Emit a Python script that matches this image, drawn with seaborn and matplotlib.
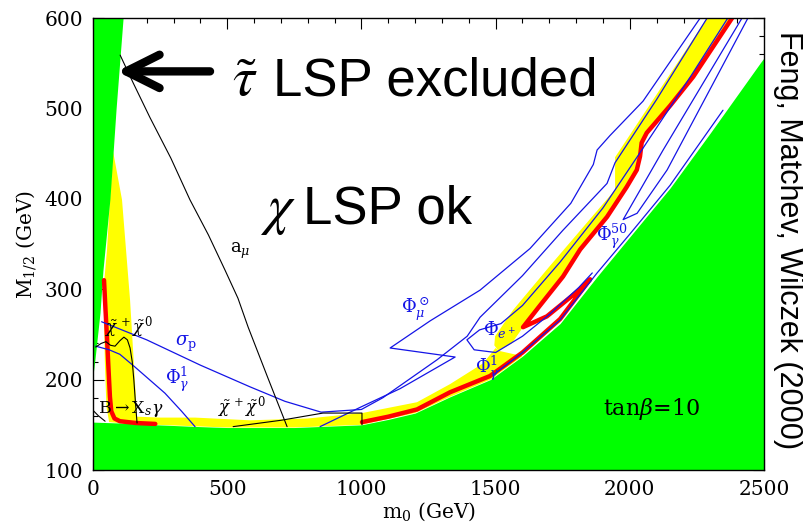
import matplotlib
matplotlib.use("Agg")
import matplotlib.pyplot as plt
import seaborn as sns
from matplotlib.ticker import MultipleLocator

# ---------------- data (m0 [GeV], M1/2 [GeV]) ----------------
# stau-LSP excluded wedge (left): boundary m0 as function of M1/2
WEDGE_M12 = [205, 222, 274, 321, 400, 500, 600]
WEDGE_M0 = [0, 7, 26, 37, 63, 86, 112]

# lower excluded region upper boundary
GREEN_M0 = [0, 100, 240, 400, 500, 750, 1000, 1100, 1200, 1330, 1480, 1600,
            1740, 1878, 2000, 2150, 2300, 2485, 2500]
GREEN_M12 = [153, 152, 150, 148, 147, 147, 150, 156, 163, 181, 200, 226,
             262, 314, 358, 412, 473, 550, 556]

# cosmologically preferred region (yellow), left + bottom band
YEL1_M0 = [75, 108, 138, 164, 250, 380, 585, 800, 1002, 1207, 1330, 1453, 1500,
           1510, 1600, 1480, 1330, 1200, 1000, 750, 500, 240, 100, 60, 50, 44,
           40, 42, 52, 63]
YEL1_M12 = [452, 399, 288, 159, 158, 158, 155, 157, 163, 175, 195, 218, 235,
            232, 226, 200, 181, 163, 150, 147, 147, 150, 152, 153, 170, 220,
            290, 310, 343, 399]
# yellow funnel band
YEL2_M0 = [1495, 1498, 1565, 1700, 1945, 1945, 2288, 2381, 2236, 2150, 2063,
           2044, 2038, 2026, 1988, 1915, 1815, 1751, 1660, 1602, 1560, 1510]
YEL2_M12 = [238, 248, 277, 325, 410, 446, 600, 600, 535, 503, 473, 462, 447,
            432, 413, 380, 344, 314, 280, 258, 240, 232]

# red band (left / bottom)
RED1_M0 = [41, 46, 52, 58, 63, 68, 80, 100, 160, 232]
RED1_M12 = [310, 280, 247, 210, 181, 165, 157, 154, 152, 151]
# red band (right, with hairpin and upper arm)
RED2_M0 = [1002, 1100, 1207, 1330, 1479, 1600, 1740, 1852, 1815, 1691, 1602,
           1660, 1751, 1815, 1915, 1988, 2026, 2038, 2044, 2063, 2150, 2236, 2381]
RED2_M12 = [153, 159, 167, 186, 204, 230, 267, 311, 300, 270, 258, 280, 314,
            344, 380, 413, 432, 447, 462, 473, 503, 535, 600]

# blue contours
SIGMA_M0 = [32, 200, 400, 585, 715, 850, 1000, 1080, 1282, 1394, 1442, 1600,
            1750, 1915, 1945, 2100, 2288]
SIGMA_M12 = [264, 244, 216, 192, 176, 164, 167, 180, 222, 248, 269, 315, 365,
             417, 440, 510, 600]
PHIMU_M0 = [846, 1000, 1144, 1349, 1107, 1256, 1442, 1628, 1780, 1864, 1878,
            1926, 2049, 2262]
PHIMU_M12 = [148, 170, 190, 225, 235, 265, 299, 345, 395, 438, 454, 470, 508, 600]
PHIE_M0 = [2365, 2230, 2040, 1900, 1740, 1600, 1520, 1440, 1393, 1420, 1500,
           1600, 1700, 1810, 1860]
PHIE_M12 = [600, 537, 452, 390, 330, 282, 262, 255, 244, 233, 230, 248, 272,
            302, 318]
PHIG50_M0 = [2418, 2124, 1975, 2027, 2139, 2440]
PHIG50_M12 = [600, 454, 377, 384, 432, 600]
PHIG1R_M0 = [1490, 1600, 1740, 1878, 2000, 2150, 2347]
PHIG1R_M12 = [205, 230, 266, 318, 361, 415, 498]
PHIG1L_M0 = [10, 60, 100, 156, 268, 330, 380]
PHIG1L_M12 = [237, 233, 228, 214, 185, 165, 148]

# black contours
AMU_M0 = [101, 150, 212, 290, 361, 430, 492, 540, 578, 650, 723]
AMU_M12 = [559, 528, 490, 445, 399, 360, 321, 290, 258, 203, 148]
CHI1_M0 = [10, 30, 48, 65, 82, 100, 115, 128, 138, 146, 152, 158, 164]
CHI1_M12 = [236, 240, 242, 238, 237, 243, 247, 244, 235, 220, 200, 175, 152]
CHI2_M0 = [522, 700, 857, 1002, 1002]
CHI2_M12 = [148, 155, 163, 163, 150]
BSG_M0 = [0, 20, 45]
BSG_M12 = [166, 160, 154]

XTICKS = [0, 500, 1000, 1500, 2000, 2500]
YTICKS = [100, 200, 300, 400, 500, 600]

# ---------------- style ----------------
sns.set_theme(style="ticks")
plt.rcParams.update({
    "font.family": ["DejaVu Serif"],
    "mathtext.fontset": "dejavuserif",
    "text.color": "black",
    "axes.labelcolor": "black",
    "axes.edgecolor": "black",
    "axes.linewidth": 1.0,
    "xtick.color": "black",
    "ytick.color": "black",
    "xtick.labelcolor": "black",
    "ytick.labelcolor": "black",
    "xtick.direction": "in",
    "ytick.direction": "in",
})

GREEN = "#00ff00"
YELLOW = "#ffff00"
RED = "#ff0000"
BLUE = "#1414e6"

fig = plt.figure(figsize=(8.04, 5.29), dpi=100)
ax = fig.add_axes([0.1157, 0.1115, 0.8346, 0.8544])

# regions
ax.fill(YEL1_M0, YEL1_M12, color=YELLOW, lw=0, zorder=1)
ax.fill(YEL2_M0, YEL2_M12, color=YELLOW, lw=0, zorder=1)
ax.fill_between(GREEN_M0, 100, GREEN_M12, color=GREEN, lw=0, zorder=2)
ax.fill_betweenx(WEDGE_M12, 0, WEDGE_M0, color=GREEN, lw=0, zorder=2)

def line(x, y, color, lw, z=4):
    sns.lineplot(x=x, y=y, sort=False, estimator=None, color=color,
                 linewidth=lw, ax=ax, zorder=z, solid_joinstyle="round")

line(RED1_M0, RED1_M12, RED, 3.2, 3)
line(RED2_M0, RED2_M12, RED, 3.2, 3)

for xs, ys in [(SIGMA_M0, SIGMA_M12), (PHIMU_M0, PHIMU_M12), (PHIE_M0, PHIE_M12),
               (PHIG50_M0, PHIG50_M12), (PHIG1R_M0, PHIG1R_M12),
               (PHIG1L_M0, PHIG1L_M12)]:
    line(xs, ys, BLUE, 0.9)

for xs, ys in [(AMU_M0, AMU_M12), (CHI1_M0, CHI1_M12), (CHI2_M0, CHI2_M12),
               (BSG_M0, BSG_M12)]:
    line(xs, ys, "black", 0.8)

# axes
ax.set_xlim(0, 2500)
ax.set_ylim(100, 600)
ax.set_xticks(XTICKS)
ax.set_yticks(YTICKS)
ax.xaxis.set_minor_locator(MultipleLocator(100))
ax.yaxis.set_minor_locator(MultipleLocator(20))
ax.tick_params(which="both", top=True, right=True, direction="in", width=0.8,
               labelsize=14.5, pad=7, colors="black")
ax.tick_params(which="major", length=8)
ax.tick_params(which="minor", length=3.5)
ax.set_xlabel(r"m$_0$ (GeV)", fontsize=14.5, labelpad=1, color="black")
ax.set_ylabel(r"M$_{1/2}$ (GeV)", fontsize=14.5, labelpad=4, color="black")
for s in ax.spines.values():
    s.set_zorder(6)

# contour labels
lab = dict(ha="center", va="center", zorder=7)
ax.text(345, 240, r"$\sigma_{\rm p}$", color=BLUE, fontsize=13, **lab)
ax.text(315, 200, r"$\Phi_\gamma^1$", color=BLUE, fontsize=13, **lab)
ax.text(1200, 278, r"$\Phi_\mu^\odot$", color=BLUE, fontsize=13, **lab)
ax.text(1515, 255, r"$\Phi_{e^+}$", color=BLUE, fontsize=13, **lab)
ax.text(1470, 212, r"$\Phi_\gamma^1$", color=BLUE, fontsize=13, **lab)
ax.text(1935, 358, r"$\Phi_\gamma^{50}$", color=BLUE, fontsize=13, **lab)
ax.text(135, 258, r"$\tilde\chi^+\tilde\chi^0$", color="black", fontsize=12, **lab)
ax.text(555, 170, r"$\tilde\chi^+\tilde\chi^0$", color="black", fontsize=12, **lab)
ax.text(140, 167, r"B$\rightarrow$X$_s\gamma$", color="black", fontsize=12.5, **lab)
ax.text(550, 342, r"a$_\mu$", color="black", fontsize=13, **lab)
ax.text(2080, 168, r"tan$\beta$=10", color="black", fontsize=16, **lab)

# big annotations
ax.text(518, 514, r"$\tilde{\tau}$", fontsize=40, math_fontfamily="stix",
        ha="left", va="baseline", zorder=7, color="black")
ax.text(671, 514, "LSP excluded", fontsize=38, family=["Liberation Sans"],
        ha="left", va="baseline", zorder=7, color="black")
ax.text(622, 373, r"$\chi$", fontsize=40, math_fontfamily="stix",
        ha="left", va="baseline", zorder=7, color="black")
ax.text(782, 373, "LSP ok", fontsize=38, family=["Liberation Sans"],
        ha="left", va="baseline", zorder=7, color="black")
ax.annotate("", xy=(89, 541), xytext=(436, 541),
            arrowprops=dict(arrowstyle="->,head_length=1.2,head_width=0.6",
                            lw=6, color="black", mutation_scale=20,
                            shrinkA=0, shrinkB=0), zorder=7)

fig.text(0.980, 0.546, "Feng, Matchev, Wilczek (2000)", rotation=270,
         fontsize=22, family=["Liberation Sans"], ha="center", va="center",
         color="black")

fig.savefig("out.png", dpi=100)
